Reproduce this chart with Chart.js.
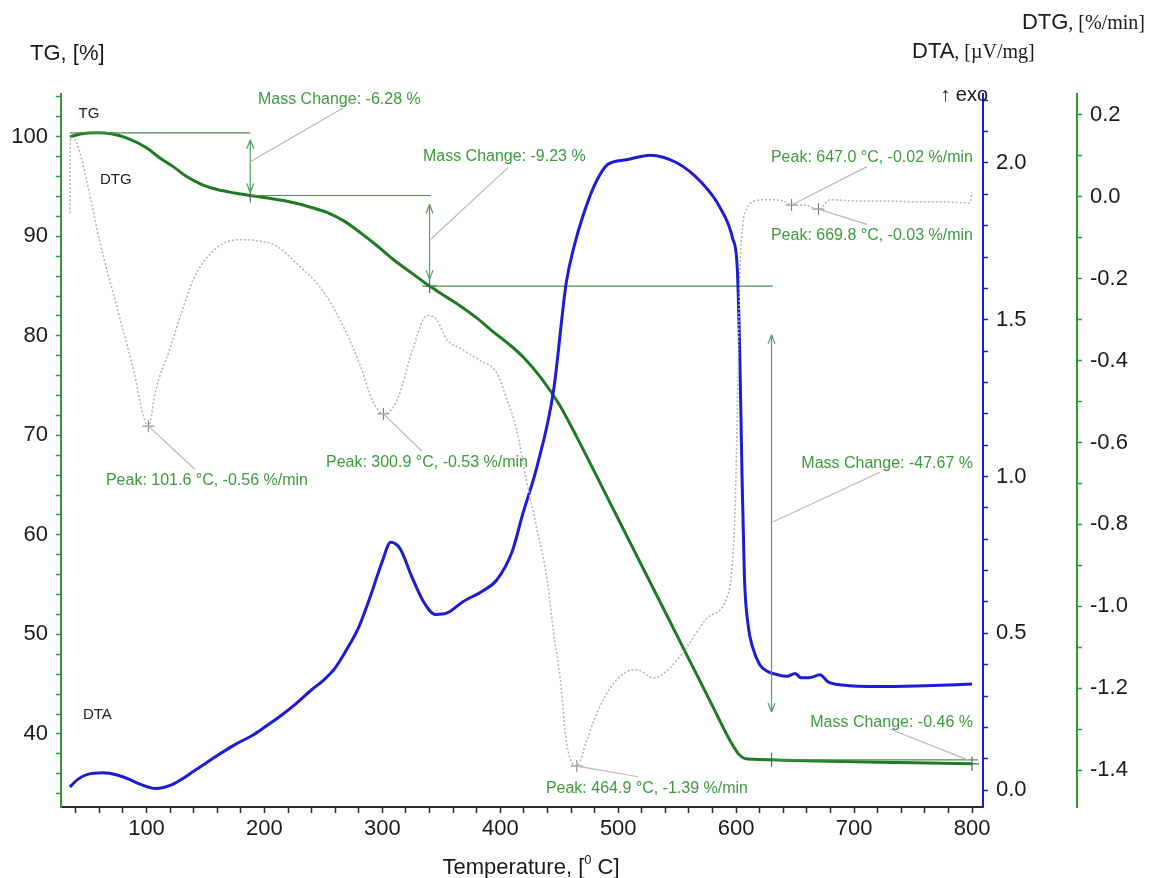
<!DOCTYPE html>
<html>
<head>
<meta charset="utf-8">
<script src="https://cdn.jsdelivr.net/npm/chart.js@4.4.0/dist/chart.umd.min.js"></script>
<style>
  body { margin: 0; background: #ffffff; }
  #caixa { width: 1149px; height: 878px; }
</style>
</head>
<body>
<div id="caixa"><canvas id="graficoTermico" width="1149" height="878"></canvas></div>
<script>
// Curva TG (massa, %)
const temperaturasTG = [35, 45, 58, 70, 83, 100, 111, 125, 134, 147, 160, 175, 188, 205, 224, 240, 253, 268, 281, 295,
  309, 325, 340, 353, 366, 380, 394, 408, 420, 435, 450, 465, 480, 500, 520, 540, 560, 580, 595, 602,
  607, 615, 630, 660, 700, 750, 800];
const valoresTG = [100.0, 100.3, 100.4, 100.3, 99.9, 98.9, 97.9, 96.8, 96.0, 95.2, 94.7, 94.35, 94.1, 93.8, 93.4, 92.9, 92.4, 91.5, 90.4, 89.1,
  87.7, 86.3, 85.0, 84.0, 83.0, 81.8, 80.4, 79.1, 77.8, 75.7, 73.1, 69.8, 66.3, 61.6, 56.9, 52.2, 47.5, 42.8, 39.3, 38.0,
  37.55, 37.45, 37.4, 37.3, 37.2, 37.1, 37.0];

// Curva DTA (µV/mg)
const temperaturasDTA = [35, 42, 50, 63, 75, 85, 95, 108, 120, 130, 140, 150, 160, 175, 190, 200, 215, 225, 240, 250,
  260, 270, 280, 290, 300, 307, 315, 325, 335, 345, 355, 368, 385, 397, 410, 419, 431, 445, 456, 463,
  470, 480, 491, 507, 527, 550, 570, 586, 597, 601, 603, 605, 607, 610, 614, 620, 626, 635, 643, 650,
  655, 662, 671, 678, 690, 722, 760, 800];
const valoresDTA = [0.01, 0.035, 0.05, 0.055, 0.048, 0.035, 0.018, 0.005, 0.015, 0.035, 0.06, 0.085, 0.11, 0.145, 0.175, 0.2, 0.24, 0.27, 0.32, 0.35,
  0.39, 0.45, 0.52, 0.62, 0.73, 0.79, 0.77, 0.68, 0.6, 0.56, 0.565, 0.6, 0.635, 0.67, 0.76, 0.88, 1.03, 1.27, 1.62, 1.74,
  1.83, 1.93, 1.995, 2.01, 2.025, 2.0, 1.94, 1.86, 1.76, 1.66, 1.4, 1.0, 0.68, 0.53, 0.455, 0.4, 0.38, 0.368, 0.363, 0.372,
  0.358, 0.358, 0.368, 0.345, 0.335, 0.33, 0.333, 0.338];

// Curva DTG (%/min)
const temperaturasDTG = [35, 35.5, 41, 50, 60, 75, 88, 101.6, 108, 120, 130, 140, 154, 168, 182, 196, 210, 230, 247, 264,
  281, 292, 300.9, 312, 326, 338, 346, 355, 366, 383, 397, 405, 414, 422, 431, 440, 445, 451, 456, 464.9,
  473, 482, 493, 507, 516, 530, 544, 558, 575, 592, 596, 599, 601.5, 603, 606, 609, 614, 626, 640, 647,
  657, 669.8, 680, 700, 725, 750, 775, 798, 800];
const valoresDTG = [-0.04, 0.145, 0.13, 0.03, -0.105, -0.27, -0.41, -0.56, -0.47, -0.37, -0.28, -0.20, -0.14, -0.11, -0.105, -0.108, -0.12, -0.17, -0.22, -0.30,
  -0.41, -0.50, -0.53, -0.50, -0.37, -0.29, -0.30, -0.35, -0.37, -0.40, -0.43, -0.49, -0.57, -0.69, -0.81, -0.94, -1.06, -1.18, -1.33, -1.39,
  -1.33, -1.26, -1.20, -1.16, -1.155, -1.175, -1.15, -1.10, -1.03, -0.98, -0.92, -0.77, -0.45, -0.2, -0.06, -0.03, -0.012, -0.007, -0.01, -0.02,
  -0.02, -0.03, -0.007, -0.01, -0.01, -0.012, -0.012, -0.015, 0.01];

// Picos da DTG
const temperaturasPicos = [101.6, 300.9, 464.9, 647.0, 669.8];
const taxasPicos = [-0.56, -0.53, -1.39, -0.02, -0.03];

// Etapas de perda de massa
const variacoesMassa = [-6.28, -9.23, -47.67, -0.46];
const temperaturasPassos = [188, 340, 630, 800];
const niveisPassos = [94.1, 85.0, 37.4, 37.0];
const inicioLinhas = [35, 188, 340, 630];
const fimLinhas = [188, 341, 631, 805];
const niveisLinhas = [100.4, 94.1, 85.0, 37.4];
const setaTopo = [99.7, 93.2, 80.1];
const setaBase = [94.4, 85.7, 42.2];

// Ticks dos eixos
const rotulosX = [100, 200, 300, 400, 500, 600, 700, 800];
const rotulosTG = [40, 50, 60, 70, 80, 90, 100];
const rotulosDTA = [0.0, 0.5, 1.0, 1.5, 2.0];
const rotulosDTG = [-1.4, -1.2, -1.0, -0.8, -0.6, -0.4, -0.2, 0.0, 0.2];

const fonteSans = "'Liberation Sans', Arial, sans-serif";
const fonteSerif = "'Liberation Serif', 'Times New Roman', serif";
const verdeTexto = '#3d9b3d';

// Posições dos rótulos (em unidades de dados: temperatura / TG)
const posPicos = [
  { t: 65.6, tg: 65.0, align: 'left', lt: 141, ltg: 66.6 },
  { t: 423.5, tg: 66.8, align: 'right', lt: 333.6, ltg: 68.4 },
  { t: 610, tg: 34.1, align: 'right', lt: 516.8, ltg: 35.7 },
  { t: 800.8, tg: 97.5, align: 'right', lt: 710.9, ltg: 97.0 },
  { t: 800.8, tg: 89.6, align: 'right', lt: 710.9, ltg: 91.2 }
];
const posMassa = [
  { t: 194.5, tg: 103.3, align: 'left', de: [188, 97.5], ate: [266.6, 102.9] },
  { t: 334.4, tg: 97.6, align: 'left', de: [341, 89.7], ate: [406.5, 96.9] },
  { t: 800.8, tg: 66.7, align: 'right', de: [631, 61.3], ate: [721.9, 66.3] },
  { t: 800.8, tg: 40.7, align: 'right', de: [798.3, 37.3], ate: [730.4, 40.5] }
];

function montarPontos(xs, ys) {
  return xs.map((x, i) => ({ x: x, y: ys[i] }));
}

function ticksEntre(min, max, passo) {
  let lista = [];
  for (let v = min; v <= max + passo / 2; v += passo) {
    lista.push(Math.round(v * 1000) / 1000);
  }
  return lista;
}

function ehRotulo(lista, v) {
  return lista.some(r => Math.abs(r - v) < 1e-6);
}

function linha(ctx, x1, y1, x2, y2) {
  ctx.beginPath();
  ctx.moveTo(x1, y1);
  ctx.lineTo(x2, y2);
  ctx.stroke();
}

// Seta dupla vertical
function desenharSeta(ctx, x, yTopo, yBase) {
  linha(ctx, x, yTopo, x, yBase);
  linha(ctx, x - 3.5, yTopo + 9, x, yTopo);
  linha(ctx, x + 3.5, yTopo + 9, x, yTopo);
  linha(ctx, x - 3.5, yBase - 9, x, yBase);
  linha(ctx, x + 3.5, yBase - 9, x, yBase);
}

const pluginAnotacoes = {
  id: 'anotacoes',
  afterDatasetsDraw(chart) {
    const ctx = chart.ctx;
    const sx = chart.scales.x;
    const sTG = chart.scales.yTG;
    const sDTG = chart.scales.yDTG;
    const px = t => sx.getPixelForValue(t);
    const py = v => sTG.getPixelForValue(v);
    ctx.save();

    // setas das etapas de massa
    ctx.strokeStyle = '#4f9f5f';
    ctx.lineWidth = 1.2;
    for (let i = 0; i < setaTopo.length; i++) {
      desenharSeta(ctx, px(temperaturasPassos[i]), py(setaTopo[i]), py(setaBase[i]));
    }

    // linhas de chamada
    ctx.strokeStyle = '#b8b8b8';
    ctx.lineWidth = 1.2;
    posMassa.forEach(p => linha(ctx, px(p.de[0]), py(p.de[1]), px(p.ate[0]), py(p.ate[1])));
    posPicos.forEach((p, i) => linha(ctx, px(temperaturasPicos[i]), sDTG.getPixelForValue(taxasPicos[i]), px(p.lt), py(p.ltg)));

    // textos verdes
    ctx.fillStyle = verdeTexto;
    ctx.font = '16px ' + fonteSans;
    ctx.textBaseline = 'alphabetic';
    posMassa.forEach((p, i) => {
      ctx.textAlign = p.align;
      ctx.fillText(`Mass Change: ${variacoesMassa[i].toFixed(2)} %`, px(p.t), py(p.tg));
    });
    posPicos.forEach((p, i) => {
      ctx.textAlign = p.align;
      ctx.fillText(`Peak: ${temperaturasPicos[i].toFixed(1)} °C, ${taxasPicos[i].toFixed(2)} %/min`, px(p.t), py(p.tg));
    });

    // nomes das curvas
    ctx.fillStyle = '#222222';
    ctx.font = '15px ' + fonteSans;
    ctx.textAlign = 'left';
    ctx.fillText('TG', px(42.4), py(101.9));
    ctx.fillText('DTG', px(60.6), py(95.3));
    ctx.fillText('DTA', px(46.1), py(41.5));
    ctx.restore();
  },
  afterDraw(chart) {
    const ctx = chart.ctx;
    const area = chart.chartArea;
    ctx.save();
    ctx.fillStyle = '#1a1a1a';
    ctx.textBaseline = 'alphabetic';

    // título esquerdo
    ctx.textAlign = 'left';
    ctx.font = '22px ' + fonteSans;
    ctx.fillText('TG, [%]', 30, 60);

    // títulos direitos com fonte mista
    ctx.font = '22px ' + fonteSans;
    let w1 = ctx.measureText('DTG').width;
    ctx.font = '20px ' + fonteSerif;
    let w2 = ctx.measureText(', [%/min]').width;
    let inicio = 1145 - w1 - w2;
    ctx.font = '22px ' + fonteSans;
    ctx.fillText('DTG', inicio, 29);
    ctx.font = '20px ' + fonteSerif;
    ctx.fillText(', [%/min]', inicio + w1, 29);

    ctx.font = '22px ' + fonteSans;
    ctx.fillText('DTA', 912, 58);
    let w3 = ctx.measureText('DTA').width;
    ctx.font = '20px ' + fonteSerif;
    ctx.fillText(', [\u00b5V/mg]', 912 + w3, 58);

    ctx.font = '20px ' + fonteSans;
    ctx.textAlign = 'right';
    ctx.fillText('\u2191 exo', area.right + 5, area.top + 7);

    // título do eixo x
    ctx.textAlign = 'left';
    ctx.font = '22px ' + fonteSans;
    let a = 'Temperature, [';
    let b = ' C]';
    let wa = ctx.measureText(a).width;
    let wb = ctx.measureText(b).width;
    ctx.font = '13px ' + fonteSans;
    let wz = ctx.measureText('0').width;
    let x0 = 531 - (wa + wz + wb) / 2;
    ctx.font = '22px ' + fonteSans;
    ctx.fillText(a, x0, 874);
    ctx.fillText(b, x0 + wa + wz, 874);
    ctx.font = '13px ' + fonteSans;
    ctx.fillText('0', x0 + wa, 864);
    ctx.restore();
  }
};

// Eixo vertical com largura fixa e ticks definidos
function eixoY(cor, min, max, ticks, rotulos, largura, posicao, peso, casas) {
  return {
    type: 'linear',
    position: posicao,
    weight: peso,
    min: min,
    max: max,
    afterBuildTicks: scale => { scale.ticks = ticks.map(v => ({ value: v })); },
    afterFit: scale => { scale.width = largura; },
    border: { color: cor, width: 2 },
    grid: { drawOnChartArea: false, drawTicks: true, tickLength: 5, tickColor: cor, tickWidth: 1.5 },
    ticks: {
      autoSkip: false,
      padding: 8,
      color: '#1a1a1a',
      font: { family: fonteSans, size: 22 },
      callback: v => ehRotulo(rotulos, v) ? (casas ? v.toFixed(casas) : String(v)) : ''
    }
  };
}

function plotarGrafico() {
  const ctx = document.getElementById('graficoTermico').getContext('2d');

  let datasets = [];
  datasets.push({
    label: 'DTG', data: montarPontos(temperaturasDTG, valoresDTG), yAxisID: 'yDTG',
    showLine: true, borderColor: '#b3b3b3', borderWidth: 1.5, borderDash: [2, 2],
    pointRadius: 0, cubicInterpolationMode: 'monotone'
  });
  datasets.push({
    label: 'DTA', data: montarPontos(temperaturasDTA, valoresDTA), yAxisID: 'yDTA',
    showLine: true, borderColor: '#1c1cd2', borderWidth: 3,
    pointRadius: 0, cubicInterpolationMode: 'monotone'
  });
  for (let i = 0; i < niveisLinhas.length; i++) {
    datasets.push({
      label: 'nivel' + i,
      data: montarPontos([inicioLinhas[i], fimLinhas[i]], [niveisLinhas[i], niveisLinhas[i]]),
      yAxisID: 'yTG', showLine: true, borderColor: '#4d8f55', borderWidth: 1.2, pointRadius: 0
    });
  }
  datasets.push({
    label: 'TG', data: montarPontos(temperaturasTG, valoresTG), yAxisID: 'yTG',
    showLine: true, borderColor: '#1f7a24', borderWidth: 3,
    pointRadius: 0, cubicInterpolationMode: 'monotone'
  });
  datasets.push({
    label: 'passos', data: montarPontos(temperaturasPassos, niveisPassos), yAxisID: 'yTG',
    showLine: false, pointStyle: 'cross', pointRadius: 7, borderColor: '#3f6f45', borderWidth: 1.2
  });
  datasets.push({
    label: 'picos', data: montarPontos(temperaturasPicos, taxasPicos), yAxisID: 'yDTG',
    showLine: false, pointStyle: 'cross', pointRadius: 6, borderColor: '#777777', borderWidth: 1
  });

  new Chart(ctx, {
    type: 'scatter',
    data: { datasets: datasets },
    options: {
      responsive: false,
      animation: false,
      layout: { padding: { top: 94, left: 0, right: 0, bottom: 0 } },
      plugins: { legend: { display: false }, tooltip: { enabled: false } },
      scales: {
        x: {
          type: 'linear',
          position: 'bottom',
          min: 27.5,
          max: 809.3,
          afterBuildTicks: scale => { scale.ticks = ticksEntre(40, 800, 20).map(v => ({ value: v })); },
          afterFit: scale => { scale.height = 71; },
          border: { color: '#2a2a2a', width: 2 },
          grid: { drawOnChartArea: false, drawTicks: true, tickLength: 6, tickColor: '#2a2a2a', tickWidth: 1.5 },
          ticks: {
            autoSkip: false, maxRotation: 0, padding: 3,
            color: '#1a1a1a', font: { family: fonteSans, size: 22 },
            callback: v => ehRotulo(rotulosX, v) ? String(v) : ''
          }
        },
        yTG: eixoY('#2f9a35', 32.66, 104.3, ticksEntre(34, 104, 2), rotulosTG, 61, 'left', 0, 0),
        yDTA: eixoY('#1c1cd2', -0.054, 2.22, ticksEntre(0, 2.2, 0.1), rotulosDTA, 94, 'right', 0, 1),
        yDTG: eixoY('#2f9a35', -1.49, 0.251, ticksEntre(-1.4, 0.2, 0.1), rotulosDTG, 72, 'right', 1, 1)
      }
    },
    plugins: [pluginAnotacoes]
  });
}

plotarGrafico();
</script>
</body>
</html>
